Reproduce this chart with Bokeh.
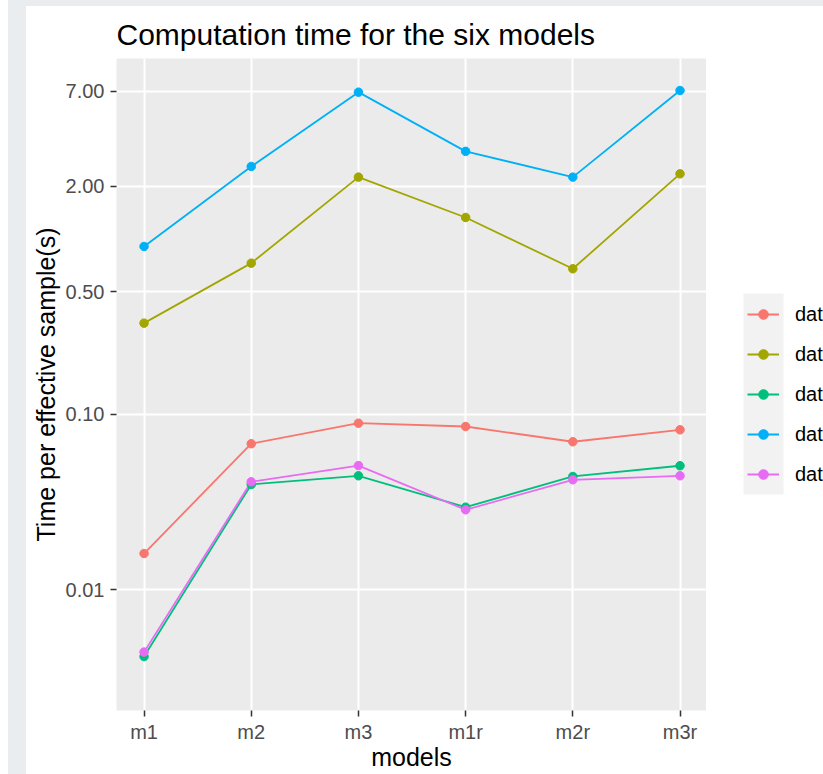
from bokeh.plotting import figure
from bokeh.models import (Range1d, FixedTicker, Legend, LegendItem, BoxAnnotation, Spacer)
from bokeh.layouts import row, column
from bokeh.embed import file_html
from bokeh.resources import INLINE

# ---------------- data ----------------
models = ["m1", "m2", "m3", "m1r", "m2r", "m3r"]
series_labels = ["dat", "dat", "dat", "dat", "dat"]
series_colors = ["#F8766D", "#A3A500", "#00BF7D", "#00B0F6", "#E76BF3"]
dat_1 = [0.0161, 0.0681, 0.0892, 0.0854, 0.0699, 0.0818]
dat_2 = [0.332, 0.730, 2.26, 1.33, 0.678, 2.36]
dat_3 = [0.00416, 0.0399, 0.0447, 0.0296, 0.0443, 0.0510]
dat_4 = [0.909, 2.60, 6.90, 3.17, 2.26, 7.05]
dat_5 = [0.00441, 0.0413, 0.0511, 0.0286, 0.0424, 0.0447]
series_values = [dat_1, dat_2, dat_3, dat_4, dat_5]
y_ticks = [0.01, 0.1, 0.5, 2.0, 7.0]
y_tick_labels = ["0.01", "0.10", "0.50", "2.00", "7.00"]

FONT = "Liberation Sans"
FRAME_COLOR = "#E9EDF0"
xs = list(range(len(models)))

# ---------------- main plot ----------------
p = figure(width=680, height=766, y_axis_type="log",
           x_range=Range1d(-0.257, 5.247), y_range=Range1d(0.002048, 10.735),
           output_backend="svg", toolbar_location=None,
           min_border_left=90, min_border_right=0,
           min_border_top=50, min_border_bottom=64)

p.background_fill_color = "#EBEBEB"
p.border_fill_color = "white"
p.outline_line_color = None

p.title.text = "Computation time for the six models"
p.title.text_font = FONT
p.title.text_font_size = "30px"
p.title.text_font_style = "normal"
p.title.text_color = "black"
p.title.align = "left"
p.title.offset = 0
p.title.standoff = 15

p.xaxis.ticker = FixedTicker(ticks=xs)
p.xaxis.major_label_overrides = {i: m for i, m in zip(xs, models)}
p.yaxis.ticker = FixedTicker(ticks=y_ticks)
p.yaxis.major_label_overrides = {t: l for t, l in zip(y_ticks, y_tick_labels)}
for ax in (p.xaxis[0], p.yaxis[0]):
    ax.axis_line_color = None
    ax.major_tick_in = 0
    ax.major_tick_out = 6
    ax.major_tick_line_color = "#333333"
    ax.major_tick_line_width = 1.5
    ax.minor_tick_line_color = None
    ax.major_label_text_font = FONT
    ax.major_label_text_font_size = "20px"
    ax.major_label_text_color = "#4D4D4D"
    ax.axis_label_text_font = FONT
    ax.axis_label_text_font_size = "25px"
    ax.axis_label_text_font_style = "normal"
    ax.axis_label_text_color = "black"
p.yaxis.major_label_standoff = 6
p.yaxis.axis_label = "Time per effective sample(s)"
p.yaxis.axis_label_standoff = 3
p.xaxis.major_label_standoff = 4
p.xaxis.axis_label = "models"
p.xaxis.axis_label_standoff = -3

p.xgrid.grid_line_color = "white"
p.xgrid.grid_line_width = 2
p.ygrid.grid_line_color = "white"
p.ygrid.grid_line_width = 2
p.xgrid.minor_grid_line_color = None
p.ygrid.minor_grid_line_color = None

for vals, col in zip(series_values, series_colors):
    p.line(xs, vals, line_color=col, line_width=1.8)
for vals, col in zip(series_values, series_colors):
    p.scatter(xs, vals, size=8.5, fill_color=col, line_color=col)

# ---------------- legend panel (frame aligned with the main plot) ----------------
lg = figure(width=117, height=766, x_range=Range1d(0, 117), y_range=Range1d(0, 652),
            output_backend="svg", toolbar_location=None, title=None,
            x_axis_location=None, y_axis_location=None,
            min_border_left=0, min_border_right=0,
            min_border_top=50, min_border_bottom=64)
lg.grid.visible = False
lg.outline_line_color = None
lg.background_fill_color = "white"
lg.border_fill_color = "white"

# grey legend-key column
lg.add_layout(BoxAnnotation(left=37, right=77, bottom=216, top=417,
                            fill_color="#F2F2F2", fill_alpha=1.0, line_color=None))

items = []
for lab, vals, col in zip(series_labels, series_values, series_colors):
    lr = lg.line(xs, vals, line_color=col, line_width=1.8, visible=False)
    sr = lg.scatter(xs, vals, size=8.5, fill_color=col, line_color=col, visible=False)
    items.append(LegendItem(label=lab, renderers=[lr, sr]))

legend = Legend(items=items, location=(41, 224), orientation="vertical",
                glyph_width=32, glyph_height=24, spacing=16, padding=0, margin=0,
                label_standoff=16, label_width=0, label_text_font=FONT,
                label_text_font_size="20px", label_text_color="black",
                background_fill_alpha=0, border_line_alpha=0)
lg.add_layout(legend, "center")

# ---------------- page frame ----------------
left_white = Spacer(width=8, height=774)
left_strip = Spacer(width=18, height=774, styles={"background-color": FRAME_COLOR})
top_strip = Spacer(width=797, height=6, styles={"background-color": FRAME_COLOR})
top_gap = Spacer(width=797, height=2)
layout = row(left_white, left_strip, column(top_strip, top_gap, row(p, lg)))

open("out.html", "w").write(file_html(layout, INLINE))
